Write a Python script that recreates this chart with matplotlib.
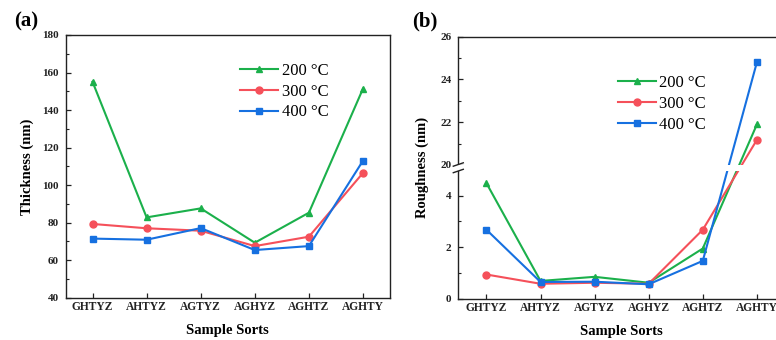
import numpy as np
import matplotlib
matplotlib.use("Agg")
import matplotlib.pyplot as plt
from matplotlib.patches import Rectangle
from matplotlib.ticker import FixedLocator

plt.rcParams['font.family'] = ['Liberation Serif', 'DejaVu Serif']
plt.rcParams['mathtext.fontset'] = 'stix'

# Sample groups and measured values
samples = ["GHTYZ", "AHTYZ", "AGTYZ", "AGHYZ", "AGHTZ", "AGHTY"]
temps = ["200 °C", "300 °C", "400 °C"]

thickness_200 = [155.1, 82.8, 87.6, 69.3, 85.3, 151.4]
thickness_300 = [79.3, 77.0, 75.7, 67.5, 72.5, 106.5]
thickness_400 = [71.5, 70.9, 77.1, 65.4, 67.5, 113.0]

roughness_200 = [4.49, 0.69, 0.85, 0.62, 1.95, 21.89]
roughness_300 = [0.94, 0.58, 0.62, 0.58, 2.68, 21.17]
roughness_400 = [2.68, 0.65, 0.66, 0.56, 1.47, 24.80]

thick_ticks = [40, 60, 80, 100, 120, 140, 160, 180]
rough_ticks = [0, 2, 4, 20, 22, 24, 26]

colors = ["#1bb04b", "#f5505a", "#1670e0"]
markers = ["^", "o", "s"]

W, H = 776, 340
fig = plt.figure(figsize=(W / 100, H / 100), dpi=100)

def frac_box(x0, x1, ytop, ybot):
    return [x0 / W, 1 - ybot / H, (x1 - x0) / W, (ybot - ytop) / H]

ax1 = fig.add_axes(frac_box(66, 389.5, 35, 297.7))
ax2 = fig.add_axes(frac_box(458.3, 785, 36.7, 298.7))

x = np.arange(len(samples))
tick_font = dict(fontweight='bold', fontsize=8)

def style_axis(ax):
    for s in ax.spines.values():
        s.set_linewidth(1.0)
        s.set_color('#222222')
    ax.tick_params(axis='both', which='both', direction='in', top=False, right=False,
                   colors='#222222')
    ax.tick_params(axis='both', which='major', length=3.5, width=0.9)
    ax.tick_params(axis='both', which='minor', length=2, width=0.8)
    ax.tick_params(axis='y', pad=5)
    ax.tick_params(axis='x', pad=2.5)
    ax.set_xticks(x)
    ax.set_xticklabels(samples, fontweight='bold', fontsize=8.3)
    ax.set_xlabel("Sample Sorts", fontweight='bold', fontsize=10.5, labelpad=8)

# ---- (a) thickness ----
for vals, c, m, lab in zip([thickness_200, thickness_300, thickness_400], colors, markers, temps):
    ax1.plot(x, vals, color=c, marker=m, markersize=5, linewidth=1.5, label=lab)
ax1.set_xlim(-0.49, 5.49)
ax1.set_ylim(40, 180)
ax1.set_yticks(thick_ticks)
ax1.set_yticklabels([str(t) for t in thick_ticks], **tick_font)
ax1.yaxis.set_minor_locator(FixedLocator(np.arange(50, 180, 20)))
style_axis(ax1)
ax1.set_ylabel("Thickness (nm)", fontweight='bold', fontsize=10.5, labelpad=6)
ax1.legend(loc='upper left', bbox_to_anchor=(0.538, 0.893), frameon=False,
           fontsize=12, handlelength=2.3, handletextpad=0.2, labelspacing=0.28,
           borderpad=0, borderaxespad=0)

# ---- (b) roughness with a broken axis ----
LOW_TOP = 5.2      # position of the break in axis units
UP_K = 0.83        # relative scale of the upper segment
BREAK_LO, BREAK_HI = 5.2, 20.0

def fwd(y):
    y = np.asarray(y, dtype=float)
    return np.where(y <= BREAK_LO, y,
                    np.where(y >= BREAK_HI, LOW_TOP + (y - BREAK_HI) * UP_K, LOW_TOP))

def inv(u):
    u = np.asarray(u, dtype=float)
    return np.where(u <= LOW_TOP, u, BREAK_HI + (u - LOW_TOP) / UP_K)

ax2.set_yscale('function', functions=(fwd, inv))
for vals, c, m, lab in zip([roughness_200, roughness_300, roughness_400], colors, markers, temps):
    ax2.plot(x, vals, color=c, marker=m, markersize=5, linewidth=1.5, label=lab, zorder=3)
ax2.set_xlim(-0.52, 5.52)
ax2.set_ylim(0, 26)
ax2.set_yticks(rough_ticks)
ax2.set_yticklabels([str(t) for t in rough_ticks], **tick_font)
ax2.yaxis.set_minor_locator(FixedLocator([1, 3, 21, 23, 25]))
style_axis(ax2)
ax2.set_ylabel("Roughness (nm)", fontweight='bold', fontsize=10.5, labelpad=8)
ax2.legend(loc='upper left', bbox_to_anchor=(0.489, 0.855), frameon=False,
           fontsize=12, handlelength=2.3, handletextpad=0.15, labelspacing=0.3,
           borderpad=0, borderaxespad=0)

# white gap across the break, then the // marks on the left spine
ax_h = 262.0
ax_w = 326.7
gap_top = (298.7 - 164.5) / ax_h
gap_bot = (298.7 - 171.0) / ax_h
ax2.add_patch(Rectangle((-0.02, gap_bot), 1.1, gap_top - gap_bot, transform=ax2.transAxes,
                        facecolor='white', edgecolor='none', zorder=5, clip_on=False))
dx = 5 / ax_w
dy = 1.7 / ax_h
for yb in (gap_top, gap_bot):
    ax2.plot([-dx, dx], [yb - dy, yb + dy], transform=ax2.transAxes, color='#222222',
             linewidth=1.0, clip_on=False, zorder=6)

# panel letters
fig.text(14 / W, 1 - 21 / H, "(a)", fontsize=15, fontweight='bold', va='center', ha='left')
fig.text(412 / W, 1 - 21 / H, "(b)", fontsize=15, fontweight='bold', va='center', ha='left')

fig.savefig("out.png", dpi=100)
